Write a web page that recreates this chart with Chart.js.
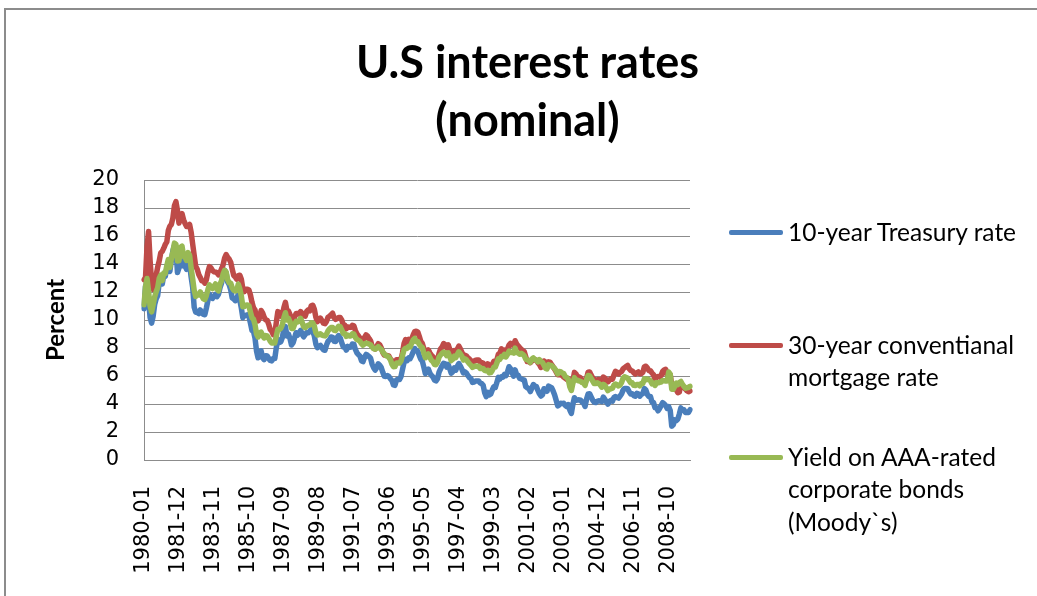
<!DOCTYPE html>
<html>
<head>
<meta charset="utf-8">
<script src="https://cdn.jsdelivr.net/npm/chart.js@4.4.1/dist/chart.umd.min.js"></script>
<style>
  html, body { margin: 0; padding: 0; background: #fff; overflow: hidden; }
  #wrap { position: relative; width: 1037px; height: 596px; }
  #frame { position: absolute; left: 4px; top: 8px; width: 1100px; height: 700px; border: 2px solid #8c8c8c; }
  #chart { position: absolute; left: 0; top: 0; }
  #title { position: absolute; left: 9px; top: 32px; width: 1037px; text-align: center; font-family: Lato, sans-serif; font-weight: bold; font-size: 45px; line-height: 58px; color: #000; }
  .leg-line { position: absolute; left: 729px; width: 54px; height: 5px; border-radius: 2px; }
  .leg-text { position: absolute; left: 788px; font-family: Lato, sans-serif; font-size: 24.5px; line-height: 32.5px; color: #000; white-space: nowrap; }
</style>
</head>
<body>
<div id="wrap">
  <div id="frame"></div>
  <canvas id="chart" width="1037" height="596"></canvas>
  <div id="title"></div>
  <div id="legend"></div>
</div>
<script>
// months 1980-01 .. 2009-12
const years = [];
for (let y = 1980; y <= 2009; y++) years.push(y);
const months = ["01","02","03","04","05","06","07","08","09","10","11","12"];
const labels = [];
years.forEach(y => months.forEach(m => labels.push(y + "-" + m)));

const yTicks = [0, 2, 4, 6, 8, 10, 12, 14, 16, 18, 20];
const titleLines = ["U.S interest rates", "(nominal)"];

// 10-year Treasury, one row per year
const treasury10 = [
  10.80, 12.41, 12.75, 11.47, 10.18, 9.78, 10.25, 11.10, 11.51, 11.75, 12.68, 12.84,
  12.57, 13.19, 13.12, 13.68, 14.10, 13.47, 14.28, 14.94, 15.32, 15.15, 13.39, 13.72,
  14.59, 14.43, 13.86, 13.87, 13.62, 14.30, 13.95, 13.06, 12.34, 10.91, 10.55, 10.54,
  10.46, 10.72, 10.51, 10.40, 10.38, 10.85, 11.38, 11.85, 11.65, 11.54, 11.69, 11.83,
  11.67, 11.84, 12.32, 12.63, 13.41, 13.56, 13.36, 12.72, 12.52, 12.16, 11.57, 11.50,
  11.38, 11.51, 11.86, 11.43, 10.85, 10.16, 10.31, 10.33, 10.37, 10.24, 9.78, 9.26,
  9.19, 8.70, 7.78, 7.30, 7.71, 7.80, 7.30, 7.17, 7.45, 7.43, 7.25, 7.11,
  7.08, 7.25, 7.25, 8.02, 8.61, 8.40, 8.45, 8.76, 9.42, 9.52, 8.86, 8.99,
  8.67, 8.21, 8.37, 8.72, 9.09, 8.92, 9.06, 9.26, 8.98, 8.80, 8.96, 9.11,
  9.09, 9.17, 9.36, 9.18, 8.86, 8.28, 8.02, 8.11, 8.19, 8.01, 7.87, 7.84,
  8.21, 8.47, 8.59, 8.79, 8.76, 8.48, 8.47, 8.75, 8.89, 8.72, 8.39, 8.08,
  8.09, 7.85, 8.11, 8.04, 8.07, 8.28, 8.27, 7.90, 7.65, 7.53, 7.42, 7.09,
  7.03, 7.34, 7.54, 7.48, 7.39, 7.26, 6.84, 6.59, 6.42, 6.59, 6.87, 6.77,
  6.60, 6.26, 5.98, 5.97, 6.04, 5.96, 5.81, 5.68, 5.36, 5.33, 5.72, 5.77,
  5.75, 5.97, 6.48, 6.97, 7.18, 7.10, 7.30, 7.24, 7.46, 7.74, 7.96, 7.81,
  7.78, 7.47, 7.20, 7.06, 6.63, 6.17, 6.28, 6.49, 6.20, 6.04, 5.93, 5.71,
  5.65, 5.81, 6.27, 6.51, 6.74, 6.91, 6.87, 6.64, 6.83, 6.53, 6.20, 6.30,
  6.58, 6.42, 6.69, 6.89, 6.71, 6.49, 6.22, 6.30, 6.21, 6.03, 5.88, 5.81,
  5.54, 5.57, 5.65, 5.64, 5.65, 5.50, 5.46, 5.34, 4.81, 4.53, 4.83, 4.65,
  4.72, 5.00, 5.23, 5.18, 5.54, 5.90, 5.79, 5.94, 5.92, 6.11, 6.03, 6.28,
  6.66, 6.52, 6.26, 5.99, 6.44, 6.10, 6.05, 5.83, 5.80, 5.74, 5.72, 5.24,
  5.16, 5.10, 4.89, 5.14, 5.39, 5.28, 5.24, 4.97, 4.73, 4.57, 4.65, 5.09,
  5.04, 4.91, 5.28, 5.21, 5.16, 4.93, 4.65, 4.26, 3.87, 3.94, 4.05, 4.03,
  4.05, 3.90, 3.81, 3.96, 3.57, 3.33, 3.98, 4.45, 4.27, 4.29, 4.30, 4.27,
  4.15, 4.08, 3.83, 4.35, 4.72, 4.73, 4.50, 4.28, 4.13, 4.10, 4.19, 4.23,
  4.22, 4.17, 4.50, 4.34, 4.14, 4.00, 4.18, 4.26, 4.20, 4.46, 4.54, 4.47,
  4.42, 4.57, 4.72, 4.99, 5.11, 5.11, 5.09, 4.88, 4.72, 4.73, 4.60, 4.56,
  4.76, 4.72, 4.56, 4.69, 4.75, 5.10, 5.00, 4.67, 4.52, 4.53, 4.15, 4.10,
  3.74, 3.74, 3.51, 3.68, 3.88, 4.10, 4.01, 3.89, 3.69, 3.81, 3.53, 2.42,
  2.52, 2.87, 2.82, 2.93, 3.29, 3.72, 3.56, 3.59, 3.40, 3.39, 3.40, 3.59
];

// 30-year conventional mortgage
const mortgage30 = [
  12.88, 13.04, 15.28, 16.32, 14.26, 12.71, 12.19, 12.56, 13.20, 13.79, 14.21, 14.79,
  14.90, 15.13, 15.40, 15.58, 16.40, 16.70, 16.83, 17.29, 18.16, 18.45, 17.83, 16.92,
  17.40, 17.60, 17.16, 16.89, 16.68, 16.70, 16.82, 16.27, 15.43, 14.61, 13.83, 13.62,
  13.25, 13.04, 12.80, 12.78, 12.63, 12.87, 13.42, 13.81, 13.73, 13.54, 13.44, 13.42,
  13.37, 13.23, 13.39, 13.65, 13.94, 14.42, 14.67, 14.47, 14.35, 14.13, 13.64, 13.18,
  13.08, 12.92, 13.17, 13.20, 12.91, 12.22, 12.03, 12.19, 12.19, 12.14, 11.78, 11.26,
  10.88, 10.71, 10.08, 9.94, 10.14, 10.68, 10.51, 10.20, 10.01, 9.98, 9.70, 9.32,
  9.20, 8.95, 9.04, 9.83, 10.60, 10.54, 10.28, 10.33, 10.89, 11.26, 10.65, 10.64,
  10.38, 9.89, 9.93, 10.20, 10.46, 10.46, 10.43, 10.60, 10.48, 10.30, 10.27, 10.61,
  10.73, 10.65, 11.03, 11.05, 10.77, 10.20, 9.88, 9.99, 10.13, 9.95, 9.77, 9.74,
  9.90, 10.20, 10.27, 10.37, 10.48, 10.16, 10.04, 10.10, 10.18, 10.18, 10.01, 9.67,
  9.64, 9.37, 9.50, 9.49, 9.47, 9.62, 9.58, 9.24, 9.01, 8.86, 8.71, 8.50,
  8.43, 8.76, 8.94, 8.85, 8.67, 8.51, 8.13, 7.98, 7.92, 8.09, 8.31, 8.22,
  8.02, 7.68, 7.50, 7.47, 7.47, 7.42, 7.21, 7.11, 6.91, 6.83, 7.16, 7.17,
  7.06, 7.15, 7.68, 8.32, 8.60, 8.40, 8.61, 8.51, 8.64, 8.93, 9.17, 9.20,
  9.15, 8.83, 8.46, 8.32, 7.96, 7.57, 7.61, 7.86, 7.64, 7.48, 7.38, 7.20,
  7.03, 7.08, 7.62, 7.93, 8.07, 8.32, 8.25, 8.00, 8.23, 7.92, 7.62, 7.60,
  7.82, 7.65, 7.90, 8.14, 7.94, 7.69, 7.50, 7.48, 7.43, 7.29, 7.21, 7.10,
  6.99, 7.04, 7.13, 7.14, 7.14, 7.00, 6.95, 6.92, 6.72, 6.71, 6.87, 6.72,
  6.79, 6.81, 7.04, 6.92, 7.15, 7.55, 7.63, 7.94, 7.82, 7.85, 7.74, 7.91,
  8.21, 8.33, 8.24, 8.15, 8.52, 8.29, 8.15, 8.03, 7.91, 7.80, 7.75, 7.38,
  7.03, 7.05, 6.95, 7.08, 7.15, 7.16, 7.13, 6.95, 6.82, 6.62, 6.66, 7.07,
  7.00, 6.89, 7.01, 6.99, 6.81, 6.65, 6.49, 6.29, 6.09, 6.11, 6.07, 6.05,
  5.92, 5.84, 5.75, 5.81, 5.48, 5.23, 5.63, 6.26, 6.15, 5.95, 5.93, 5.88,
  5.71, 5.64, 5.45, 5.83, 6.27, 6.29, 6.06, 5.87, 5.75, 5.72, 5.73, 5.75,
  5.71, 5.63, 5.93, 5.86, 5.72, 5.58, 5.70, 5.82, 5.77, 6.07, 6.33, 6.27,
  6.15, 6.25, 6.32, 6.51, 6.60, 6.68, 6.76, 6.52, 6.40, 6.36, 6.24, 6.14,
  6.22, 6.29, 6.16, 6.18, 6.26, 6.66, 6.70, 6.57, 6.38, 6.38, 6.21, 6.10,
  5.76, 5.92, 5.97, 5.92, 6.04, 6.32, 6.43, 6.48, 6.04, 6.20, 6.09, 5.33,
  5.06, 5.13, 5.00, 4.81, 4.86, 5.42, 5.22, 5.19, 5.06, 4.95, 4.88, 4.93
];

// Moody's AAA corporate bond yield
const aaaBonds = [
  11.09, 12.38, 12.96, 12.04, 10.99, 10.58, 11.07, 11.64, 12.02, 12.31, 12.97, 13.21,
  12.81, 13.35, 13.33, 13.88, 14.32, 13.75, 14.38, 14.89, 15.49, 15.40, 14.22, 14.23,
  15.18, 15.27, 14.58, 14.46, 14.26, 14.81, 14.61, 13.71, 12.94, 12.12, 11.68, 11.83,
  11.79, 12.01, 11.73, 11.51, 11.46, 11.74, 12.15, 12.51, 12.37, 12.25, 12.41, 12.57,
  12.20, 12.08, 12.57, 12.81, 13.28, 13.55, 13.44, 12.87, 12.66, 12.63, 12.29, 12.13,
  12.08, 12.13, 12.56, 12.23, 11.72, 10.94, 10.97, 11.05, 11.07, 11.02, 10.55, 10.16,
  10.05, 9.67, 9.00, 8.79, 9.09, 9.13, 8.88, 8.72, 8.89, 8.86, 8.68, 8.49,
  8.36, 8.38, 8.36, 8.85, 9.33, 9.32, 9.42, 9.67, 10.18, 10.52, 10.01, 10.11,
  9.88, 9.40, 9.39, 9.67, 9.90, 9.86, 9.96, 10.11, 9.82, 9.51, 9.45, 9.57,
  9.62, 9.64, 9.80, 9.79, 9.57, 9.10, 8.93, 8.96, 9.01, 8.92, 8.89, 8.86,
  8.99, 9.22, 9.37, 9.46, 9.47, 9.26, 9.24, 9.41, 9.56, 9.53, 9.30, 9.05,
  9.04, 8.83, 8.93, 8.86, 8.86, 9.01, 9.00, 8.75, 8.61, 8.55, 8.48, 8.31,
  8.20, 8.29, 8.35, 8.33, 8.28, 8.22, 8.07, 7.95, 7.92, 7.99, 8.10, 7.98,
  7.91, 7.71, 7.58, 7.46, 7.43, 7.33, 7.17, 6.85, 6.66, 6.67, 6.93, 6.93,
  6.92, 7.08, 7.48, 7.88, 7.99, 7.97, 8.11, 8.07, 8.34, 8.57, 8.68, 8.46,
  8.46, 8.26, 8.12, 8.03, 7.65, 7.30, 7.41, 7.57, 7.32, 7.12, 7.02, 6.82,
  6.81, 6.99, 7.35, 7.50, 7.62, 7.71, 7.65, 7.46, 7.66, 7.39, 7.10, 7.20,
  7.42, 7.31, 7.55, 7.73, 7.58, 7.41, 7.14, 7.22, 7.15, 7.00, 6.87, 6.76,
  6.61, 6.67, 6.72, 6.69, 6.69, 6.53, 6.55, 6.52, 6.40, 6.37, 6.41, 6.22,
  6.24, 6.40, 6.62, 6.64, 6.93, 7.23, 7.19, 7.40, 7.39, 7.55, 7.36, 7.55,
  7.78, 7.68, 7.68, 7.64, 7.99, 7.67, 7.65, 7.55, 7.62, 7.55, 7.45, 7.21,
  7.15, 7.10, 6.98, 7.20, 7.29, 7.18, 7.13, 7.02, 7.17, 7.03, 6.97, 6.77,
  6.55, 6.51, 6.81, 6.76, 6.75, 6.63, 6.53, 6.37, 6.15, 6.32, 6.31, 6.21,
  6.17, 5.95, 5.89, 5.74, 5.22, 4.97, 5.49, 5.88, 5.72, 5.70, 5.65, 5.62,
  5.54, 5.50, 5.33, 5.73, 6.04, 6.01, 5.82, 5.65, 5.46, 5.47, 5.52, 5.47,
  5.36, 5.20, 5.40, 5.33, 5.15, 4.96, 5.06, 5.09, 5.13, 5.35, 5.42, 5.37,
  5.29, 5.35, 5.53, 5.84, 5.95, 5.89, 5.85, 5.68, 5.51, 5.51, 5.33, 5.32,
  5.40, 5.39, 5.30, 5.47, 5.47, 5.79, 5.73, 5.79, 5.74, 5.66, 5.44, 5.49,
  5.33, 5.53, 5.51, 5.55, 5.57, 5.68, 5.67, 5.64, 5.65, 6.28, 6.12, 5.05,
  5.05, 5.27, 5.50, 5.39, 5.54, 5.61, 5.41, 5.26, 5.13, 5.15, 5.19, 5.26
];

const seriesNames = [
  ["10-year Treasury rate"],
  ["30-year conventianal", "mortgage rate"],
  ["Yield on AAA-rated", "corporate bonds", "(Moody`s)"]
];
const seriesColors = ["#4A7EBB", "#BE4B48", "#98B954"];

Chart.defaults.font.family = "'DejaVu Sans', sans-serif";
Chart.defaults.color = "#000";

document.getElementById("title").innerHTML = titleLines.join("<br>");

const ctx = document.getElementById("chart").getContext("2d");
const chart = new Chart(ctx, {
  type: "line",
  data: {
    labels: labels,
    datasets: [treasury10, mortgage30, aaaBonds].map((vals, i) => ({
      label: seriesNames[i].join(" "),
      data: vals,
      borderColor: seriesColors[i],
      backgroundColor: seriesColors[i],
      borderWidth: 5.5,
      pointRadius: 0,
      tension: 0,
      borderJoinStyle: "round",
      borderCapStyle: "round",
      order: 2 - i  // green drawn on top, like excel
    }))
  },
  options: {
    responsive: false,
    animation: false,
    devicePixelRatio: 1,
    layout: { padding: { left: 0, right: 347, top: 180, bottom: 0 } },
    plugins: {
      legend: { display: false },
      tooltip: { enabled: false },
      title: { display: false }
    },
    scales: {
      x: {
        offset: false,
        grid: { display: false },
        border: { display: true, color: "#8c8c8c", width: 1 },
        ticks: {
          autoSkip: false,
          maxRotation: 90,
          minRotation: 90,
          padding: 18,
          font: { size: 21 },
          callback: function (val, index) {
            return index % 23 === 0 ? this.getLabelForValue(val) : "";
          }
        },
        afterFit: (scale) => { scale.height = 136; }
      },
      y: {
        min: 0,
        max: 20,
        afterBuildTicks: (scale) => { scale.ticks = yTicks.map(v => ({ value: v })); },
        grid: { color: "#8c8c8c", lineWidth: 1, drawTicks: false },
        border: { display: true, color: "#8c8c8c", width: 1 },
        ticks: { autoSkip: false, padding: 25, font: { size: 21 } },
        title: {
          display: true,
          text: "Percent",
          font: { family: "Lato, sans-serif", size: 24, weight: "bold" },
          padding: { top: 42, bottom: 0 }
        },
        afterFit: (scale) => { scale.width = 144; }
      }
    }
  }
});

// legend on the right, built from the same names / colours
const legend = document.getElementById("legend");
const legendTops = [232, 345, 457];
seriesNames.forEach((lines, i) => {
  const mark = document.createElement("div");
  mark.className = "leg-line";
  mark.style.top = (legendTops[i] - 2.5) + "px";
  mark.style.background = seriesColors[i];
  legend.appendChild(mark);
  const txt = document.createElement("div");
  txt.className = "leg-text";
  txt.style.top = (legendTops[i] - 16.25) + "px";
  txt.innerHTML = lines.join("<br>");
  legend.appendChild(txt);
});
</script>
</body>
</html>
